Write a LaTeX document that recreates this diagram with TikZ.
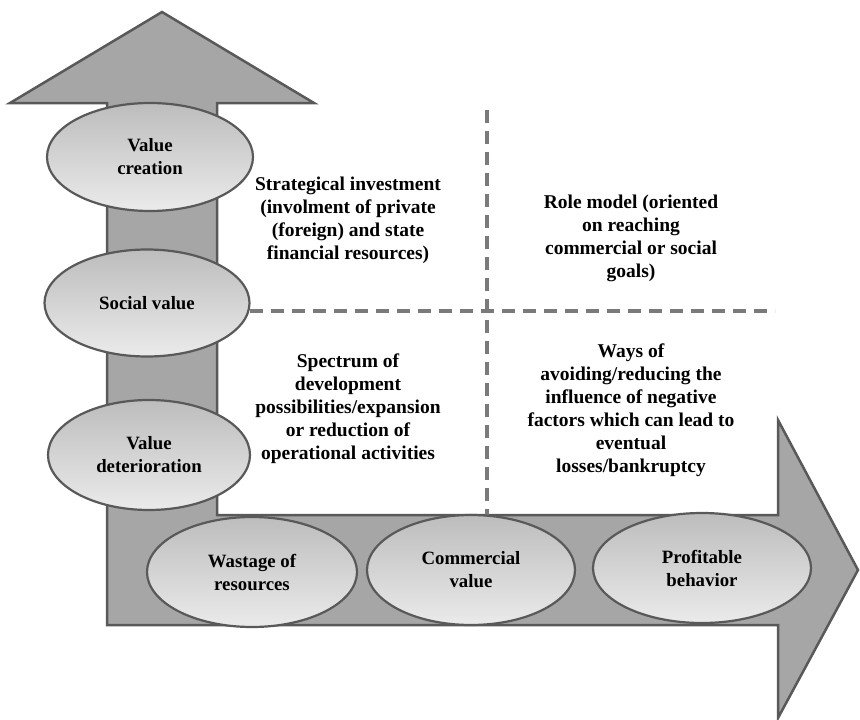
\documentclass[tikz,border=0pt]{standalone}
\usepackage{fontspec}
\setmainfont{Liberation Serif}
\usetikzlibrary{shapes.geometric}
\definecolor{arrowfill}{HTML}{A6A6A6}
\definecolor{edgegray}{HTML}{595959}
\definecolor{dashgray}{HTML}{7A7A7A}
\tikzset{
  bigarrow/.style={fill=arrowfill, draw=edgegray, line width=2.5pt, line join=miter},
  oval/.style={ellipse, draw=edgegray, line width=2.2pt, top color=black!26, bottom color=black!8,
    inner sep=0pt, align=center, font=\fontsize{18.8}{23}\selectfont\bfseries},
  quad/.style={align=center, inner sep=0pt, font=\fontsize{19.5}{23}\selectfont\bfseries},
  divider/.style={draw=dashgray, line width=3.6pt, dash pattern=on 13pt off 8pt}
}
\begin{document}
\begin{tikzpicture}[x=1pt,y=-1pt]
\useasboundingbox (0,0) rectangle (860,720);
% L-shaped double arrow
\draw[bigarrow] (10,103) -- (162,12) -- (314,103) -- (217,103) -- (217,515) -- (778,515)
  -- (778,420) -- (858,570) -- (778,718) -- (778,625) -- (107,625) -- (107,103) -- cycle;
% dividers
\coordinate (vtop) at (487,110);
\coordinate (vbot) at (487,515);
\coordinate (hleft) at (250,311);
\coordinate (hright) at (775,311);
\draw[divider] (vtop) -- (vbot);
\draw[divider] (hleft) -- (hright);
% ellipses on vertical axis
\node[oval, minimum width=206pt, minimum height=108pt] (vc) at (150,157) {Value\\creation};
\node[oval, minimum width=205pt, minimum height=107pt] (sv) at (147,303) {Social value};
\node[oval, minimum width=202pt, minimum height=110pt] (vd) at (149,455) {Value\\deterioration};
% ellipses on horizontal axis
\node[oval, minimum width=210pt, minimum height=110pt] (ws) at (252,572) {Wastage of\\resources};
\node[oval, minimum width=208pt, minimum height=110pt] (cv) at (471,570) {Commercial\\value};
\node[oval, minimum width=218pt, minimum height=110pt] (pb) at (702,568) {Profitable\\behavior};
% quadrant texts
\node[quad] (q1) at (348,220) {Strategical investment\\(involment of private\\(foreign) and state\\financial resources)};
\node[quad] (q2) at (631,238) {Role model (oriented\\on reaching\\commercial or social\\goals)};
\node[quad] (q3) at (348,409) {Spectrum of\\development\\possibilities/expansion\\or reduction of\\operational activities};
\node[quad] (q4) at (631,410) {Ways of\\avoiding/reducing the\\influence of negative\\factors which can lead to\\eventual\\losses/bankruptcy};
\end{tikzpicture}
\end{document}
